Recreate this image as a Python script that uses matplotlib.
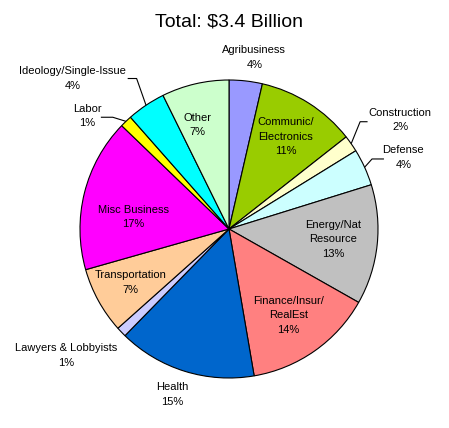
import numpy as np
import matplotlib
matplotlib.use('Agg')
import matplotlib.pyplot as plt

plt.rcParams['font.family'] = ['Liberation Sans', 'DejaVu Sans']

# sectors, clockwise from 12 o'clock (percent of total)
sectors = ['Agribusiness', 'Communic/\nElectronics', 'Construction', 'Defense',
           'Energy/Nat\nResource', 'Finance/Insur/\nRealEst', 'Health',
           'Lawyers & Lobbyists', 'Transportation', 'Misc Business', 'Labor',
           'Ideology/Single-Issue', 'Other']
shares = [3.6, 10.8, 1.8, 4.0, 13.0, 14.1, 15.0, 1.1, 7.2, 16.6, 1.3, 4.2, 7.3]
colors = ['#9999FF', '#99CC00', '#FFFFCC', '#CCFFFF', '#C0C0C0', '#FF8080',
          '#0066CC', '#CCCCFF', '#FFCC99', '#FF00FF', '#FFFF00', '#00FFFF',
          '#CCFFCC']

# label centres (pie units, centre = 0,0, radius = 1)
label_pos = [(0.17, 1.15), (0.38, 0.62), (1.15, 0.73), (1.17, 0.48),
             (0.70, -0.07), (0.40, -0.58), (-0.38, -1.11), (-1.09, -0.85),
             (-0.66, -0.36), (-0.64, 0.08), (-0.95, 0.76), (-1.05, 1.01),
             (-0.21, 0.70)]
# leader lines: sector index -> (elbow, end)
leaders = {2: ((0.88, 0.72), (0.93, 0.72)),
           3: ((0.96, 0.47), (1.04, 0.47)),
           10: ((-0.78, 0.75), (-0.86, 0.75)),
           11: ((-0.62, 1.01), (-0.68, 1.01))}

W, H = 449, 428
cx, cy, r = 229, 229, 149
fig = plt.figure(figsize=(W / 100, H / 100), dpi=100)
ax = fig.add_axes([0, 0, 1, 1])
ax.axis('off')

wedges, _ = ax.pie(shares, colors=colors, startangle=90, counterclock=False,
                   radius=1, center=(0, 0), frame=False,
                   wedgeprops=dict(edgecolor='black', linewidth=0.8))
ax.set_xlim(-cx / r, (W - cx) / r)
ax.set_ylim(-(H - cy) / r, cy / r)

for i, (name, v) in enumerate(zip(sectors, shares)):
    x, y = label_pos[i]
    ax.text(x, y, f'{name}\n{round(v)}%', ha='center', va='center',
            fontsize=8, color='black', linespacing=1.55)

for i, (elbow, end) in leaders.items():
    w = wedges[i]
    mid = np.deg2rad((w.theta1 + w.theta2) / 2)
    sx, sy = np.cos(mid), np.sin(mid)
    ax.plot([sx, elbow[0], end[0]], [sy, elbow[1], end[1]],
            color='black', linewidth=0.8, solid_capstyle='butt')

fig.text(0.51, 1 - 22 / H, 'Total: $3.4 Billion', ha='center', va='center',
         fontsize=14)

fig.savefig('out.png', dpi=100, facecolor='white')
